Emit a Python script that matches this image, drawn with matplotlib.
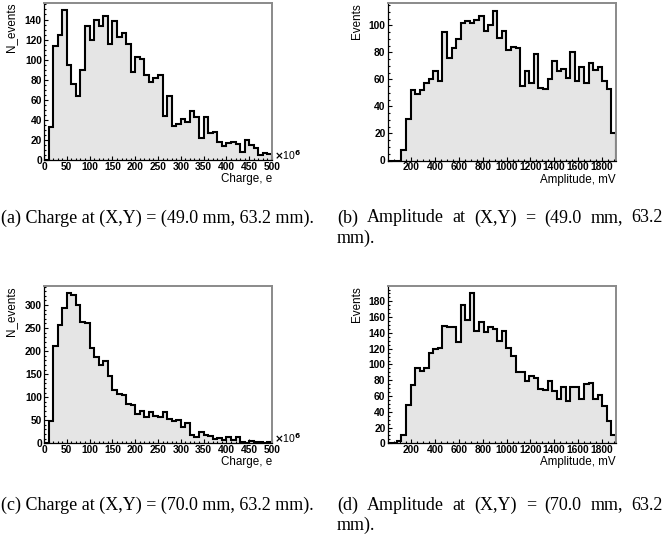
import numpy as np
import matplotlib
matplotlib.use("Agg")
import matplotlib.pyplot as plt
from matplotlib.ticker import MultipleLocator, FixedLocator

# ---------------- data ----------------
charge_edges = np.linspace(0, 500, 51)          # x 10^6 e
amp_edges = np.linspace(0, 1920, 51)            # mV

charge_a = [0, 33, 114, 125, 149, 95, 76, 64, 90, 134, 120,
            140, 134, 143, 116, 139, 123, 127, 116, 88, 103,
            101, 85, 78, 82, 85, 44, 64, 34, 36, 41,
            38, 49, 43, 22, 43, 27, 28, 18, 14, 17,
            18, 16, 8, 20, 15, 12, 5, 7, 6]

amp_b = [0, 0, 0, 8, 31, 52, 49, 52, 57, 60,
         66, 59, 95, 76, 83, 90, 102, 103, 102, 104,
         107, 96, 100, 111, 91, 96, 82, 84, 83, 55,
         66, 57, 79, 54, 53, 60, 74, 66, 68, 61,
         80, 59, 69, 57, 72, 67, 69, 59, 53, 20]

charge_c = [0, 48, 212, 256, 293, 325, 321, 300, 264, 261,
            206, 187, 170, 179, 147, 116, 107, 104, 85, 84,
            64, 69, 58, 67, 59, 56, 67, 52, 48, 50,
            36, 43, 17, 14, 25, 19, 15, 9, 11, 7,
            14, 7, 13, 3, 1, 5, 3, 2, 1, 2]

amp_d = [0, 1, 3, 11, 49, 74, 95, 92, 96, 115,
         119, 121, 149, 148, 147, 129, 176, 157, 190, 142,
         154, 141, 148, 145, 130, 142, 121, 111, 91, 90,
         79, 85, 83, 69, 68, 79, 66, 56, 71, 54,
         71, 72, 56, 75, 76, 56, 61, 47, 28, 10]

amp_ticks = [200, 400, 600, 800, 1000, 1200, 1400, 1600, 1800]

captions = [
    "(a) Charge at (X,Y) = (49.0 mm, 63.2 mm).",
    "(b) Amplitude at (X,Y) = (49.0 mm, 63.2 mm).",
    "(c) Charge at (X,Y) = (70.0 mm, 63.2 mm).",
    "(d) Amplitude at (X,Y) = (70.0 mm, 63.2 mm).",
]

# ---------------- style ----------------
SANS = "Liberation Sans"
SERIF = "Liberation Serif"
plt.rcParams["font.family"] = [SANS, "DejaVu Sans"]
plt.rcParams["font.weight"] = "bold"
plt.rcParams["xtick.labelsize"] = 7.4
plt.rcParams["ytick.labelsize"] = 7.4

W, H = 666, 538
fig = plt.figure(figsize=(W / 100, H / 100), dpi=100)


def px_axes(l, t, r, b):
    return fig.add_axes([l / W, 1 - b / H, (r - l) / W, (b - t) / H])


def fx(x):
    return x / W


def fy(y):
    return 1 - y / H


def style(ax, xmaj, xmin, ymaj, ymin):
    if isinstance(xmaj, list):
        ax.xaxis.set_major_locator(FixedLocator(xmaj))
    else:
        ax.xaxis.set_major_locator(MultipleLocator(xmaj))
    ax.xaxis.set_minor_locator(MultipleLocator(xmin))
    ax.yaxis.set_major_locator(MultipleLocator(ymaj))
    ax.yaxis.set_minor_locator(MultipleLocator(ymin))
    ax.tick_params(which="both", direction="in", top=False, right=False,
                   width=0.8, colors="black")
    ax.tick_params(which="major", length=3.2)
    ax.tick_params(which="minor", length=1.7)
    ax.tick_params(axis="x", pad=1.2)
    ax.tick_params(axis="y", pad=1.6)
    for s in ("left", "bottom"):
        ax.spines[s].set_color("black")
        ax.spines[s].set_linewidth(0.9)
    for s in ("top", "right"):
        ax.spines[s].set_color("#8a8a8a")
        ax.spines[s].set_linewidth(1.4)


def hist(ax, edges, vals):
    ax.stairs(vals, edges, fill=True, facecolor="#e5e5e5", edgecolor="none",
              baseline=0)
    ax.stairs(vals, edges, color="black", linewidth=1.5, baseline=0)


panels = [
    ((44, 3, 272, 160), charge_edges, charge_a, "N_events", "Charge, e", True),
    ((387.7, 3, 616, 160.5), amp_edges, amp_b, "Events", "Amplitude, mV", False),
    ((44, 286, 272, 443.3), charge_edges, charge_c, "N_events", "Charge, e", True),
    ((387.7, 286, 616, 443.3), amp_edges, amp_d, "Events", "Amplitude, mV", False),
]

for (l, t, r, b), edges, vals, ylab, xlab, is_charge in panels:
    ax = px_axes(l, t, r, b)
    hist(ax, edges, vals)
    ax.set_xlim(edges[0], edges[-1])
    ax.set_ylim(0, 1.05 * max(vals))
    ymax = max(vals)
    if is_charge:
        ymaj = 50 if ymax > 200 else 20
        ymin = 10 if ymax > 200 else 5
        style(ax, 50, 10, ymaj, ymin)
        fig.text(fx(r + 1.5), fy(b - 5), r"$\times$10$^{6}$", ha="left",
                 va="center", fontsize=7.6, fontweight="normal")
    else:
        style(ax, amp_ticks, 50, 20, 5)
    fig.text(fx(r), fy(b + 19), xlab, ha="right", va="center",
             fontsize=8.4, fontweight="normal")
    fig.text(fx(l - 32.5 if is_charge else l - 31), fy(t), ylab, ha="center",
             va="top", rotation=90, fontsize=8.4, fontweight="normal")

# ---------------- captions ----------------
CAP_FS = 13.0
fig.text(fx(157), fy(218), captions[0], ha="center", va="center",
         fontsize=CAP_FS, family=SERIF, fontweight="normal")
fig.text(fx(157), fy(505), captions[2], ha="center", va="center",
         fontsize=CAP_FS, family=SERIF, fontweight="normal")

renderer = fig.canvas.get_renderer()


def justified(text_line, x0, x1, y):
    words = text_line.split(" ")
    arts = [fig.text(0, 0, w_, fontsize=CAP_FS, family=SERIF, va="center",
                     ha="left", fontweight="normal") for w_ in words]
    widths = [a.get_window_extent(renderer).width for a in arts]
    gap = ((x1 - x0) - sum(widths)) / (len(words) - 1)
    x = x0
    for a, wd in zip(arts, widths):
        a.set_position((fx(x), fy(y)))
        x += wd + gap


for cap, yline in ((captions[1], 218), (captions[3], 505)):
    words = cap.split(" ")
    justified(" ".join(words[:-1]), 337, 663, yline)
    fig.text(fx(337), fy(yline + 20.5), words[-1], ha="left", va="center",
             fontsize=CAP_FS, family=SERIF, fontweight="normal")

fig.savefig("out.png", dpi=100)
